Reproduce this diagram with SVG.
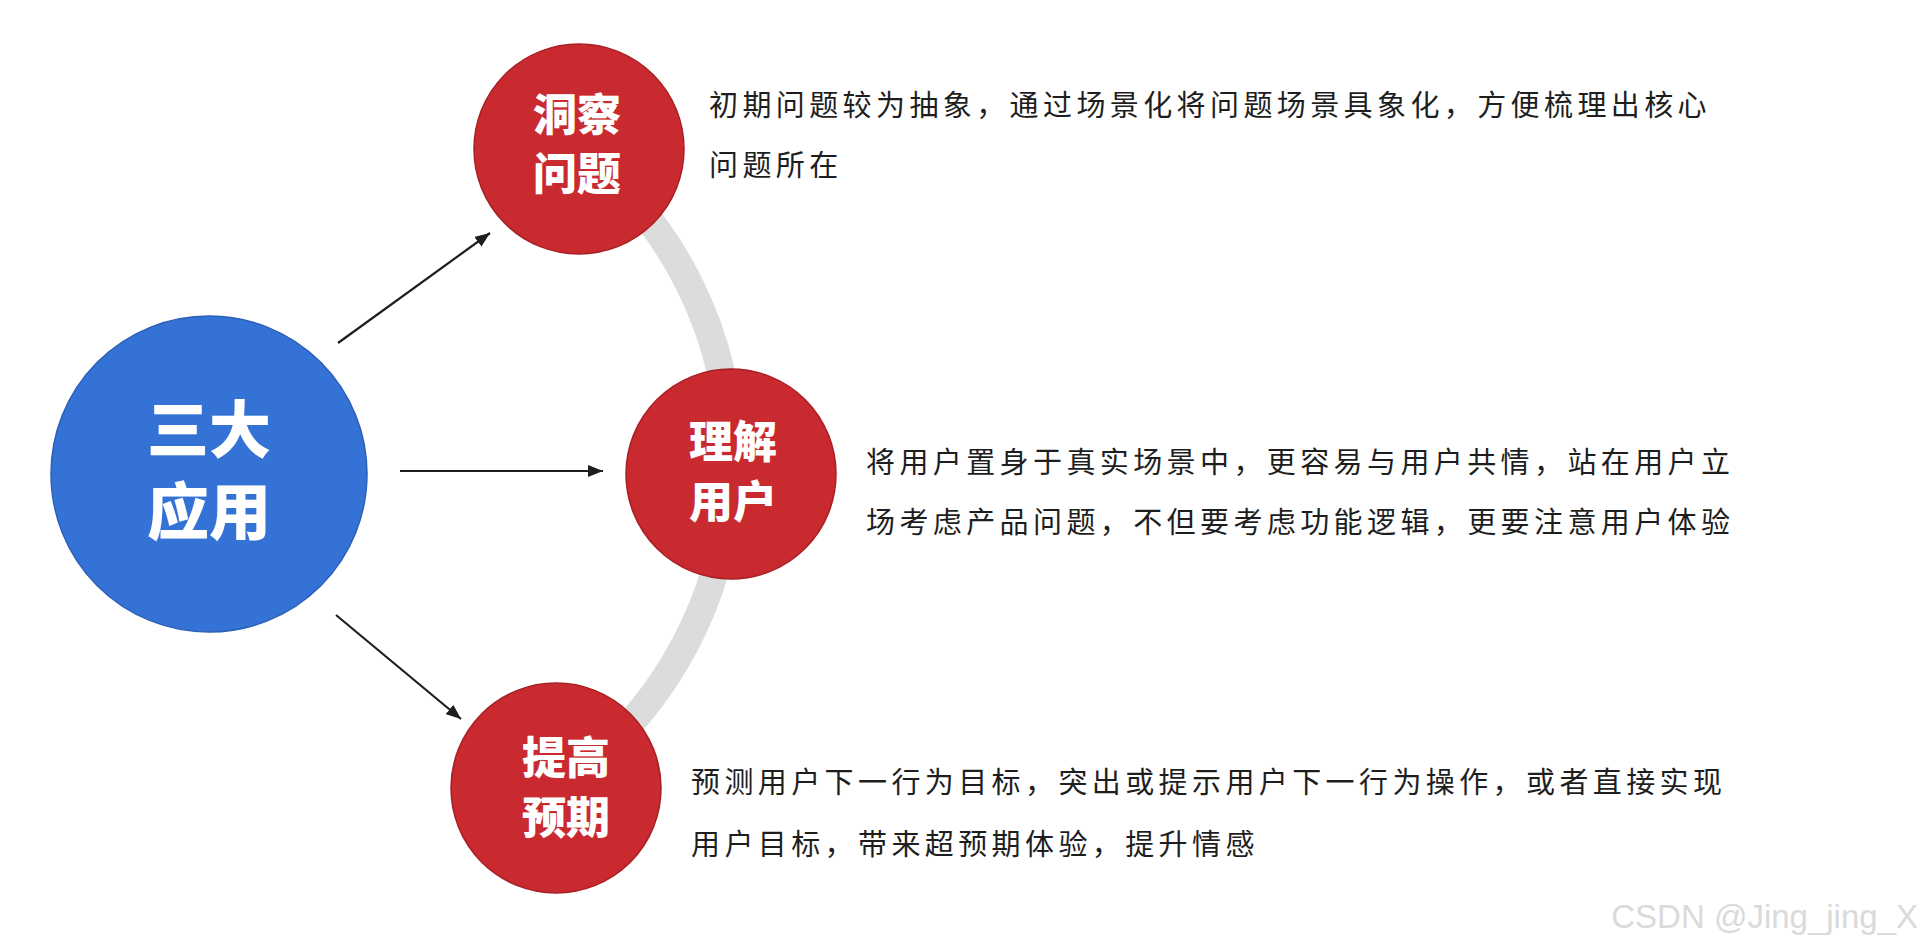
<svg xmlns="http://www.w3.org/2000/svg" width="1924" height="948" viewBox="0 0 1924 948">
  <style>
    .hub { fill: #3572d6; stroke: #2b5fb8; stroke-width: 1.5; }
    .node { fill: #c92a2f; stroke: #a81f24; stroke-width: 1.5; }
    .hubtxt { font-family: "Noto Sans CJK SC", "Noto Sans", sans-serif; font-weight: 900; font-size: 62px; fill: #ffffff; text-anchor: middle; }
    .nodetxt { font-family: "Noto Sans CJK SC", "Noto Sans", sans-serif; font-weight: 900; font-size: 44px; fill: #ffffff; text-anchor: middle; }
    .desc { font-family: "Noto Sans CJK SC", "Noto Sans", sans-serif; font-weight: 400; font-size: 29px; fill: #1e1e1e; letter-spacing: 4.4px; }
    .conn { stroke: #1e1e1e; stroke-width: 2.2; fill: none; }
    .track { stroke: #dcdcdc; stroke-width: 28; fill: none; }
    .wm { font-family: "Liberation Sans", Arial, sans-serif; font-size: 33px; fill: #dadada; text-anchor: end; }
  </style>
  <defs>
    <marker id="arrow" markerUnits="userSpaceOnUse" markerWidth="16" markerHeight="12" refX="15" refY="6" orient="auto">
      <path d="M0,0 L15,6 L0,12 z" fill="#1e1e1e"/>
    </marker>
  </defs>
  <rect width="1924" height="948" fill="#ffffff"/>

  <path id="track" class="track" d="M 579 149 A 395 395 0 0 1 556 788"/>

  <g id="connectors">
    <line class="conn" x1="338" y1="343" x2="490" y2="233" marker-end="url(#arrow)"/>
    <line class="conn" x1="400" y1="471" x2="603" y2="471" marker-end="url(#arrow)"/>
    <line class="conn" x1="336" y1="615" x2="461" y2="719" marker-end="url(#arrow)"/>
  </g>

  <g id="hub">
    <circle class="hub" cx="209" cy="474" r="158"/>
    <text class="hubtxt" x="209" y="453">三大</text>
    <text class="hubtxt" x="209" y="535">应用</text>
  </g>

  <g id="node-insight">
    <circle class="node" cx="579" cy="149" r="105"/>
    <text class="nodetxt" x="577" y="131">洞察</text>
    <text class="nodetxt" x="577" y="190">问题</text>
  </g>

  <g id="node-user">
    <circle class="node" cx="731" cy="474" r="105"/>
    <text class="nodetxt" x="733" y="458">理解</text>
    <text class="nodetxt" x="733" y="518">用户</text>
  </g>

  <g id="node-expect">
    <circle class="node" cx="556" cy="788" r="105"/>
    <text class="nodetxt" x="566" y="774">提高</text>
    <text class="nodetxt" x="566" y="834">预期</text>
  </g>

  <g id="desc-insight">
    <text class="desc" x="709" y="116">初期问题较为抽象，通过场景化将问题场景具象化，方便梳理出核心</text>
    <text class="desc" x="709" y="176">问题所在</text>
  </g>

  <g id="desc-user">
    <text class="desc" x="866" y="473">将用户置身于真实场景中，更容易与用户共情，站在用户立</text>
    <text class="desc" x="866" y="533">场考虑产品问题，不但要考虑功能逻辑，更要注意用户体验</text>
  </g>

  <g id="desc-expect">
    <text class="desc" x="691" y="793">预测用户下一行为目标，突出或提示用户下一行为操作，或者直接实现</text>
    <text class="desc" x="691" y="855">用户目标，带来超预期体验，提升情感</text>
  </g>

  <text class="wm" x="1918" y="928">CSDN @Jing_jing_X</text>
</svg>
